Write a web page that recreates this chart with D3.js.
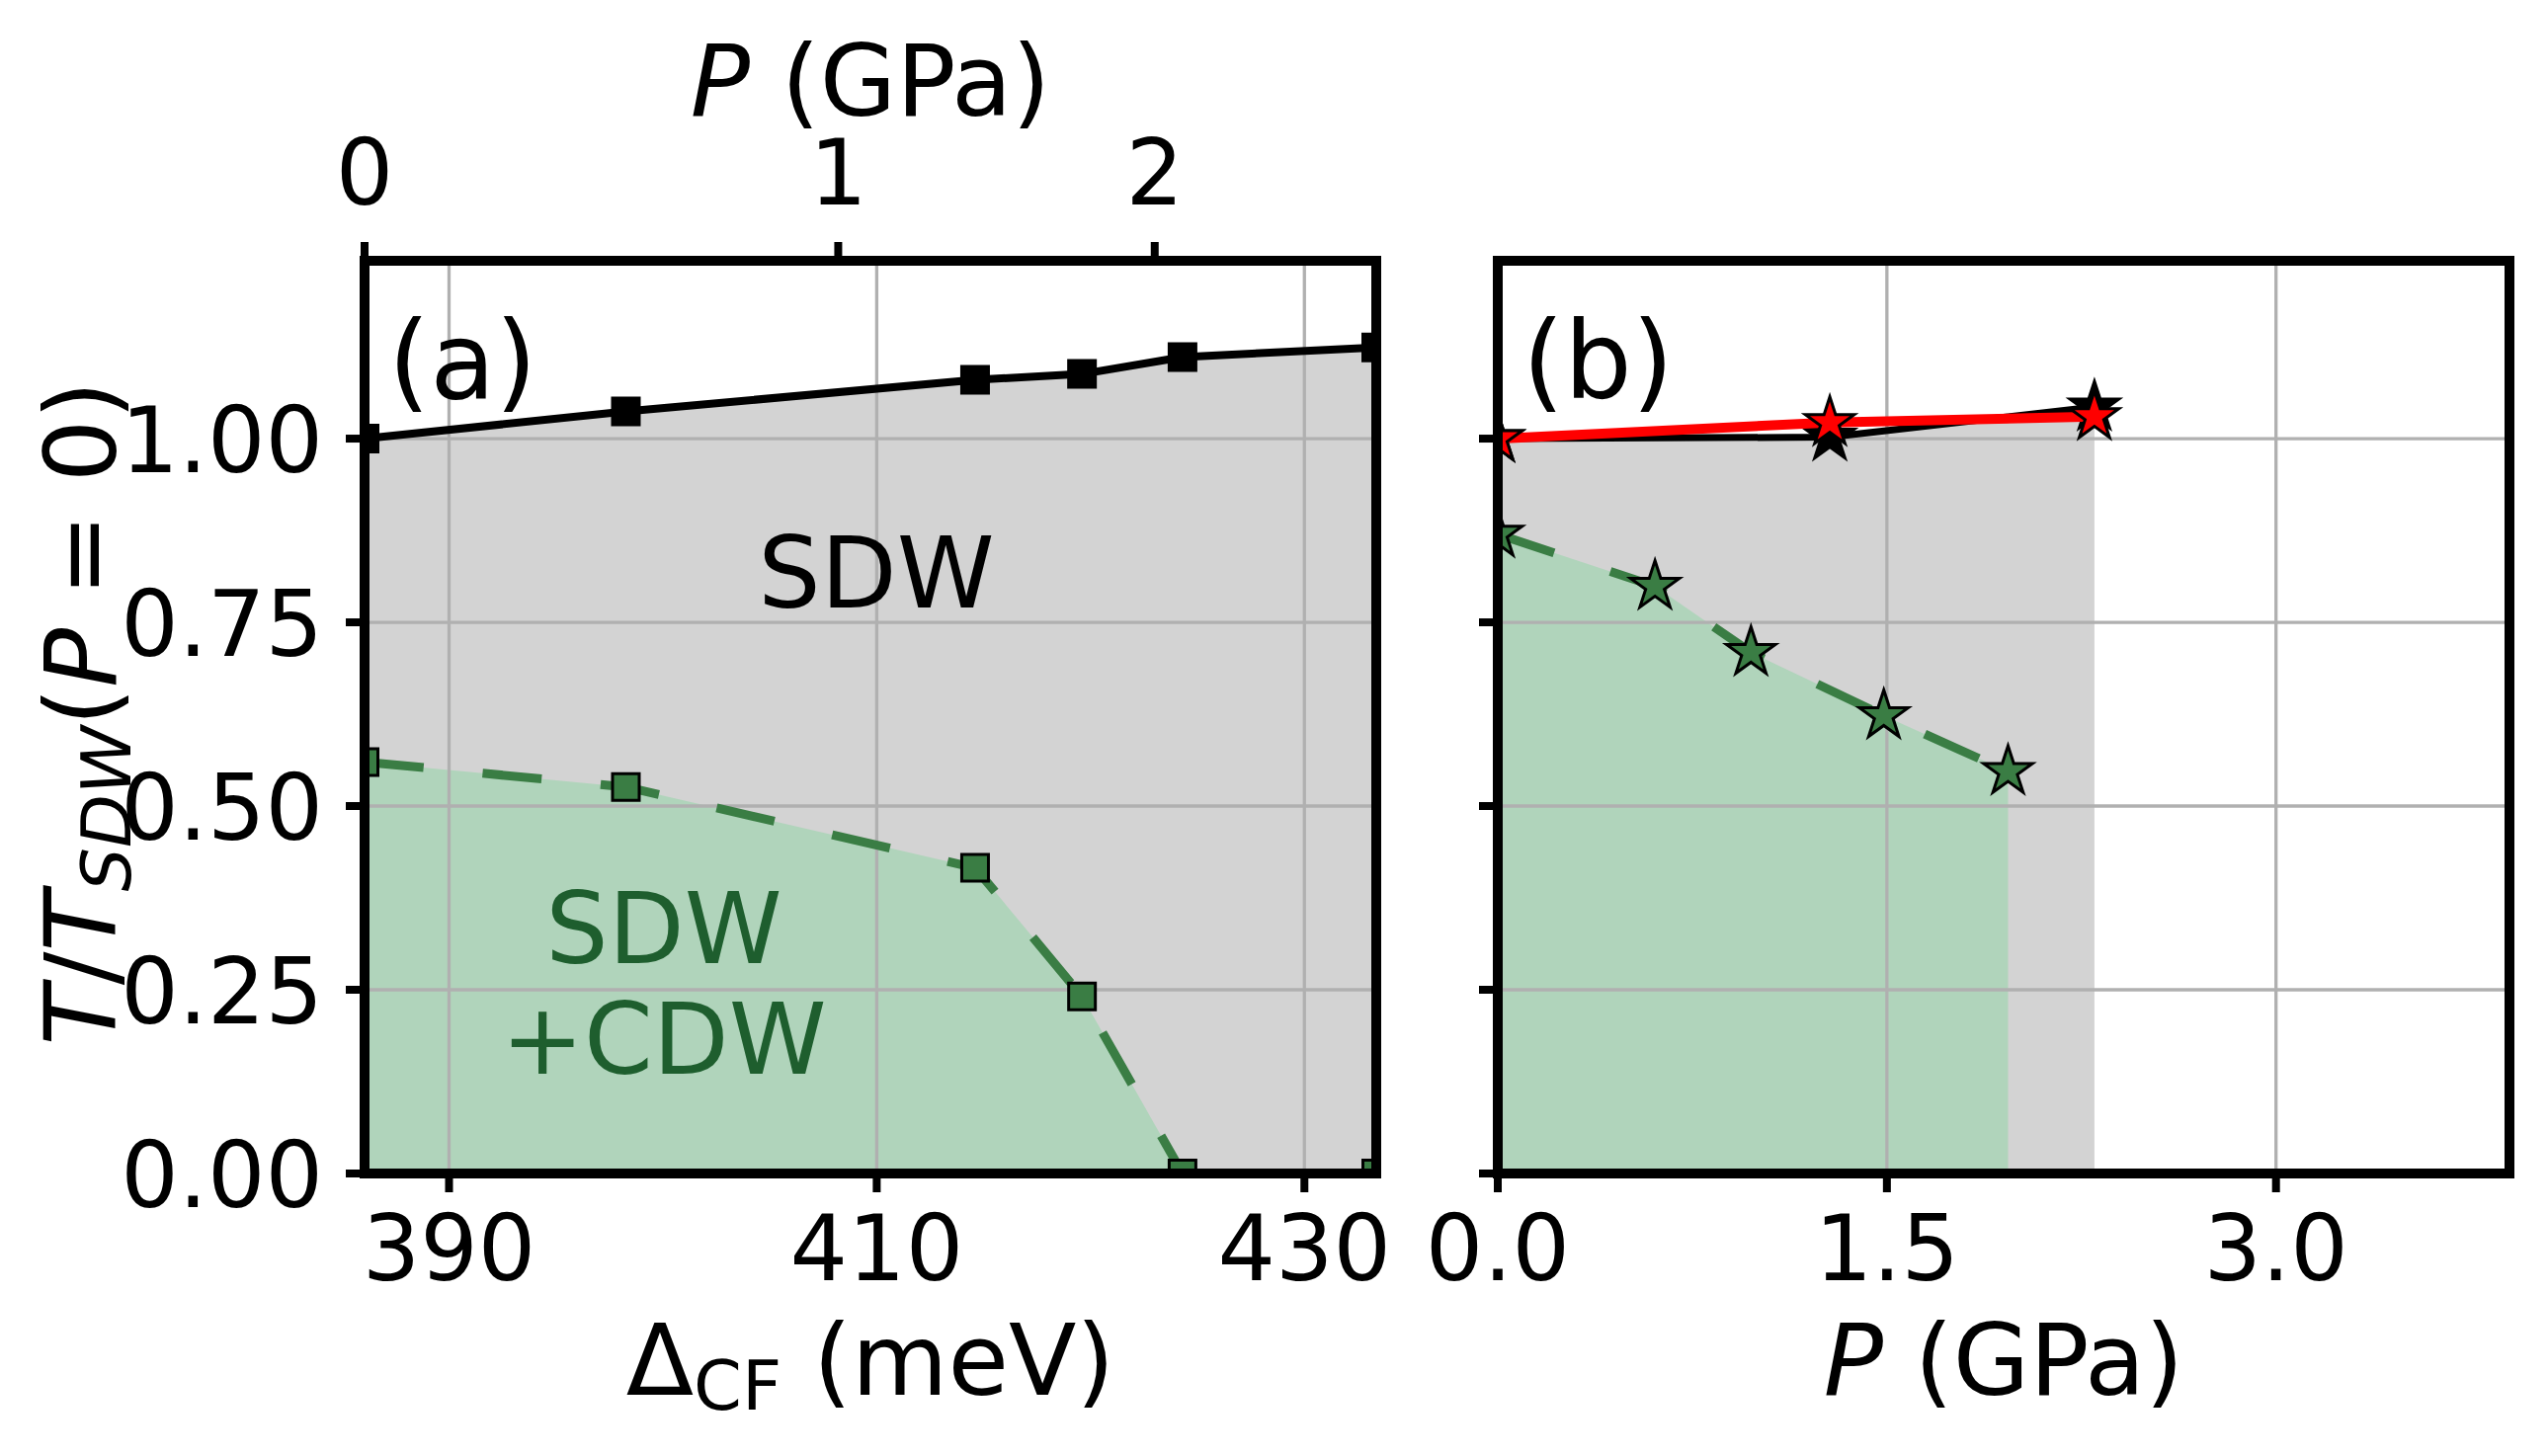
<!DOCTYPE html>
<html><head><meta charset="utf-8">
<script src="https://cdn.jsdelivr.net/npm/d3@7"></script>
<style>body{margin:0;background:#fff} svg{display:block} text{font-family:"DejaVu Sans",sans-serif;white-space:pre}</style>
</head><body><svg id="chart" width="2579" height="1474"></svg>
<script>
// ---------------- data ----------------
const deltaCF = [386.05, 398.27, 414.6, 419.6, 424.3, 433.36];      // Δ_CF (meV), panel (a)
const tSDW_a  = [1.000, 1.037, 1.080, 1.088, 1.111, 1.124];          // black squares
const tCDW_a  = [0.560, 0.526, 0.416, 0.241, 0.000, 0.000];          // green squares
const deltaTicks = [390, 410, 430];
const pTopTicks = ["0", "1", "2"];                                    // top axis labels (P, GPa)
const pTopTickDelta = [386.05, 408.2, 423.0];                        // their Δ positions
const yTicks = [0, 0.25, 0.5, 0.75, 1.0];
const yTickLabels = ["0.00", "0.25", "0.50", "0.75", "1.00"];
const pSDW_b = [0, 1.28, 2.30];                                      // panel (b)
const tSDW_b_black = [1.000, 1.002, 1.043];
const tSDW_b_red   = [1.000, 1.022, 1.030];
const pCDW_b = [0, 0.606, 0.976, 1.488, 1.967];
const tCDW_b = [0.870, 0.799, 0.709, 0.623, 0.547];
const pTicks_b = [0, 1.5, 3.0];
const pTickLabels_b = ["0.0", "1.5", "3.0"];

// ---------------- layout ----------------
const svg = d3.select("#chart");
svg.append("rect").attr("width",2579).attr("height",1474).attr("fill","#fff");
const TOP = 264, BOT = 1188;
const y = d3.scaleLinear().domain([0, 1.242]).range([BOT, TOP]);
const xA = d3.scaleLinear().domain([386.05, 433.36]).range([369, 1393]);
const xB = d3.scaleLinear().domain([0, 3.9]).range([1516, 2540]);

const GRAY = "#d3d3d3", GFILL = "#b0d4bb", GLINE = "#3a7d44", GTEXT = "#1e5e2e", GRID = "#b0b0b0";
const TICKFS = 92, LABFS = 100;

const defs = svg.append("defs");
function clip(id, x) {
  defs.append("clipPath").attr("id", id).append("rect")
    .attr("x", x.range()[0]).attr("y", TOP).attr("width", x.range()[1]-x.range()[0]).attr("height", BOT-TOP);
}
clip("clipA", xA); clip("clipB", xB);

function pts(xs, ys) { return xs.map((d,i)=>[d, ys[i]]); }

function panel(x, clipId, gridX) {
  const g = svg.append("g");
  const c = g.append("g").attr("clip-path", `url(#${clipId})`);
  return {g, c};
}

function grid(c, x, gridX) {
  c.selectAll(null).data(gridX).enter().append("line")
    .attr("x1", d=>x(d)).attr("x2", d=>x(d)).attr("y1", TOP).attr("y2", BOT)
    .attr("stroke", GRID).attr("stroke-width", 3.3);
  c.selectAll(null).data(yTicks).enter().append("line")
    .attr("x1", x.range()[0]).attr("x2", x.range()[1]).attr("y1", d=>y(d)).attr("y2", d=>y(d))
    .attr("stroke", GRID).attr("stroke-width", 3.3);
}

function area(c, x, data, color) {
  const a = d3.area().x(d=>x(d[0])).y0(y(0)).y1(d=>y(d[1]));
  c.append("path").attr("d", a(data)).attr("fill", color);
}
function line(c, x, data, color, w, dash) {
  const l = d3.line().x(d=>x(d[0])).y(d=>y(d[1]));
  const p = c.append("path").attr("d", l(data)).attr("fill","none").attr("stroke", color)
    .attr("stroke-width", w).attr("stroke-linejoin","round");
  if (dash) p.attr("stroke-dasharray", dash);
}
function markers(c, x, data, type, size, fill) {
  c.selectAll(null).data(data).enter().append("path")
    .attr("transform", d=>`translate(${x(d[0])},${y(d[1])})`)
    .attr("d", d3.symbol().type(type).size(size)())
    .attr("fill", fill).attr("stroke", "#000").attr("stroke-width", 3).attr("stroke-linejoin","miter");
}
function frame(g, x) {
  const [x0, x1] = x.range();
  g.append("rect").attr("x", x0).attr("y", TOP).attr("width", x1-x0).attr("height", BOT-TOP)
    .attr("fill","none").attr("stroke","#000").attr("stroke-width", 10);
}
function tick(g, x1, y1, x2, y2) {
  g.append("line").attr("x1",x1).attr("y1",y1).attr("x2",x2).attr("y2",y2)
    .attr("stroke","#000").attr("stroke-width",8);
}

// ---------------- panel (a) ----------------
{
  const {g, c} = panel(xA, "clipA");
  area(c, xA, pts(deltaCF, tSDW_a), GRAY);
  area(c, xA, pts(deltaCF, tCDW_a), GFILL);
  grid(c, xA, deltaTicks);
  line(c, xA, pts(deltaCF, tSDW_a), "#000", 8);
  markers(c, xA, pts(deltaCF, tSDW_a), d3.symbolSquare, 27*27, "#000");
  line(c, xA, pts(deltaCF, tCDW_a), GLINE, 9, "60,60");
  markers(c, xA, pts(deltaCF, tCDW_a), d3.symbolSquare, 27*27, GLINE);
  frame(g, xA);
  // bottom ticks
  deltaTicks.forEach(d => {
    tick(g, xA(d), BOT, xA(d), BOT+19);
    g.append("text").attr("x", xA(d)).attr("y", 1296).attr("text-anchor","middle")
      .attr("font-size", TICKFS).text(d);
  });
  // left ticks
  yTicks.forEach((d,i) => {
    tick(g, 369, y(d), 350, y(d));
    g.append("text").attr("x", 327).attr("y", y(d) + 0.3645*TICKFS).attr("text-anchor","end")
      .attr("font-size", TICKFS).text(yTickLabels[i]);
  });
  // top ticks (pressure)
  pTopTickDelta.forEach((d,i) => {
    tick(g, xA(d), TOP, xA(d), TOP-19);
    g.append("text").attr("x", xA(d)).attr("y", 207).attr("text-anchor","middle")
      .attr("font-size", TICKFS).text(pTopTicks[i]);
  });
  // labels
  const tl = g.append("text").attr("x", 881).attr("y", 117).attr("text-anchor","middle").attr("font-size", LABFS);
  tl.append("tspan").attr("font-style","italic").text("P");
  tl.append("tspan").text(" (GPa)");
  const bl = g.append("text").attr("x", 881).attr("y", 1412).attr("text-anchor","middle").attr("font-size", LABFS);
  bl.append("tspan").text("Δ");
  bl.append("tspan").attr("font-size", 70).attr("dy", 15).text("CF");
  bl.append("tspan").attr("dy", -15).text(" (meV)");
  g.append("text").attr("x", 393).attr("y", 403).attr("font-size", 108).text("(a)");
  g.append("text").attr("x", 887).attr("y", 615).attr("text-anchor","middle").attr("font-size", LABFS).text("SDW");
  g.append("text").attr("x", 672).attr("y", 975).attr("text-anchor","middle").attr("font-size", LABFS).attr("fill", GTEXT).text("SDW");
  g.append("text").attr("x", 672).attr("y", 1087).attr("text-anchor","middle").attr("font-size", LABFS).attr("fill", GTEXT).text("+CDW");
}

// ---------------- panel (b) ----------------
{
  const {g, c} = panel(xB, "clipB");
  area(c, xB, pts(pSDW_b, tSDW_b_black), GRAY);
  area(c, xB, pts(pCDW_b, tCDW_b), GFILL);
  grid(c, xB, pTicks_b);
  line(c, xB, pts(pSDW_b, tSDW_b_black), "#000", 7);
  markers(c, xB, pts(pSDW_b, tSDW_b_black), d3.symbolStar, 26*26/0.8908130915292852, "#000");
  line(c, xB, pts(pSDW_b, tSDW_b_red), "#ff0000", 10);
  markers(c, xB, pts(pSDW_b, tSDW_b_red), d3.symbolStar, 26*26/0.8908130915292852, "#ff0000");
  line(c, xB, pts(pCDW_b, tCDW_b), GLINE, 9, "60,60");
  markers(c, xB, pts(pCDW_b, tCDW_b), d3.symbolStar, 26*26/0.8908130915292852, GLINE);
  frame(g, xB);
  pTicks_b.forEach((d,i) => {
    tick(g, xB(d), BOT, xB(d), BOT+19);
    g.append("text").attr("x", xB(d)).attr("y", 1296).attr("text-anchor","middle")
      .attr("font-size", TICKFS).text(pTickLabels_b[i]);
  });
  yTicks.forEach(d => tick(g, 1516, y(d), 1497, y(d)));
  const bl = g.append("text").attr("x", 2028).attr("y", 1412).attr("text-anchor","middle").attr("font-size", LABFS);
  bl.append("tspan").attr("font-style","italic").text("P");
  bl.append("tspan").text(" (GPa)");
  g.append("text").attr("x", 1541).attr("y", 403).attr("font-size", 108).text("(b)");
}

// ---------------- y label ----------------
{
  const yl = svg.append("text").attr("transform","translate(117,722) rotate(-90)")
    .attr("text-anchor","middle").attr("font-size", LABFS);
  yl.append("tspan").attr("font-style","italic").text("T");
  yl.append("tspan").text("/");
  yl.append("tspan").attr("font-style","italic").text("T");
  yl.append("tspan").attr("font-style","italic").attr("font-size",70).attr("dy",15).text("SDW");
  yl.append("tspan").attr("dy",-15).text("(");
  yl.append("tspan").attr("font-style","italic").text("P");
  yl.append("tspan").text(" = 0)");
}
</script>
</body></html>
